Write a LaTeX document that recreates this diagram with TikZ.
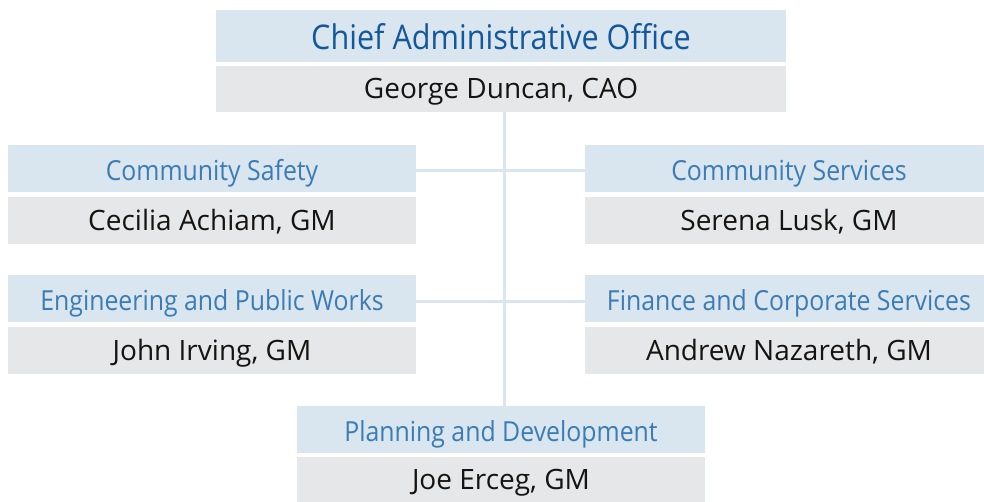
\documentclass[tikz,border=0pt]{standalone}
\usepackage{fontspec}
\setmainfont{Open Sans}
\newfontfamily\condfont[FakeStretch=0.9]{Open Sans}
\usetikzlibrary{positioning}
\definecolor{bandblue}{HTML}{D9E5EF}
\definecolor{bandgrey}{HTML}{E6E7E8}
\definecolor{chiefblue}{HTML}{14589C}
\definecolor{deptblue}{HTML}{3A7CB3}
\definecolor{linkblue}{HTML}{DAE5F0}

\begin{document}
\begin{tikzpicture}[x=0.75pt,y=-0.75pt]
        %
        % `chief' and `head' are the blue title bands, `person' the grey name bands.
        % `link' is used for the connecting lines.
        \tikzstyle{chief} = [fill=bandblue,text=chiefblue,inner sep=0pt,minimum width=427.5pt,minimum height=39pt,text height=21pt,text depth=0pt,font=\condfont\fontsize{25.5}{30}\selectfont]
        \tikzstyle{head} = [fill=bandblue,text=deptblue,inner sep=0pt,minimum width=306pt,minimum height=35.25pt,text height=18pt,text depth=0pt,font=\condfont\fontsize{20.7}{24}\selectfont]
        \tikzstyle{person} = [fill=bandgrey,text=black!92,inner sep=0pt,minimum width=306pt,minimum height=35.25pt,text height=15pt,text depth=0pt,font=\fontsize{21}{25}\selectfont]
        \tikzstyle{link} = [draw=linkblue,line width=2.25pt]
        %
        \useasboundingbox (0,0) rectangle (984,502);
        %
        % CAO
        \node[chief] (cao) at (501,36) {Chief Administrative Office};
        \node[person,minimum width=427.5pt,minimum height=34.5pt,below=2.25pt of cao] (caoName) {George Duncan, CAO};
        %
        % Row 1
        \node[head] (safety) at (212,168.5) {Community Safety};
        \node[person,below=3pt of safety] (safetyName) {Cecilia Achiam, GM};
        \node[head] (services) at (789,168.5) {Community Services};
        \node[person,below=3pt of services] (servicesName) {Serena Lusk, GM};
        %
        % Row 2
        \node[head] (works) at (212,298.5) {Engineering and Public Works};
        \node[person,below=3pt of works] (worksName) {John Irving, GM};
        \node[head] (finance) at (789,298.5) {Finance and Corporate Services};
        \node[person,below=3pt of finance] (financeName) {Andrew Nazareth, GM};
        %
        % Bottom
        \node[head] (planning) at (501,429.5) {Planning and Development};
        \node[person,minimum height=34.5pt,below=2.25pt of planning] (planningName) {Joe Erceg, GM};
        %
        % Lines
        \coordinate (spine) at (504,0);
        \draw[link] (caoName.south -| spine) -- (planning.north -| spine);
        \draw[link] ([yshift=-1.5pt]safety.east) -- ([yshift=-1.5pt]services.west);
        \draw[link] ([yshift=-2pt]works.east) -- ([yshift=-2pt]finance.west);
        %
\end{tikzpicture}
\end{document}
